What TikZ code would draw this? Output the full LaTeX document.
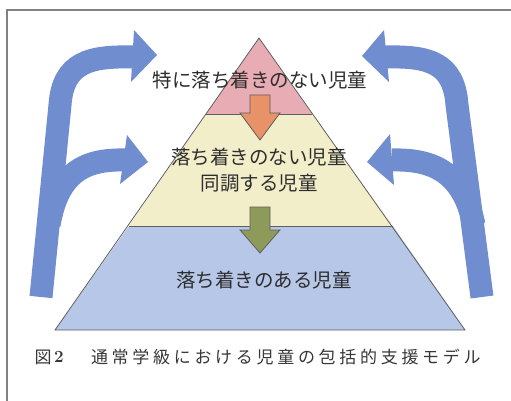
\documentclass[tikz,border=0pt]{standalone}
\usepackage{fontspec}
\newfontfamily\jpfont{Noto Sans CJK JP}
\definecolor{framegray}{RGB}{130,130,130}
\definecolor{edgegray}{RGB}{95,95,95}
\definecolor{pinkfill}{RGB}{232,172,180}
\definecolor{yellowfill}{RGB}{243,238,202}
\definecolor{bluefill}{RGB}{182,199,232}
\definecolor{bluearrow}{RGB}{112,141,208}
\definecolor{orangearrow}{RGB}{232,146,104}
\definecolor{greenarrow}{RGB}{142,154,90}
\definecolor{textgray}{RGB}{45,45,45}
\definecolor{capgray}{RGB}{55,55,55}
\newcommand{\cc}[1]{\makebox[20.7pt]{#1}}
\begin{document}
\begin{tikzpicture}[x=1pt,y=-1pt,
  layer/.style={draw=edgegray,line width=0.8pt},
  downarrow/.style={draw=edgegray,line width=0.8pt},
  bigstroke/.style={draw=bluearrow,line width=23pt,line cap=butt},
  bighead/.style={fill=bluearrow},
  lab/.style={text=textgray,font=\jpfont\fontsize{19.5}{22}\selectfont,inner sep=0pt},
  caption/.style={text=capgray,font=\jpfont\fontsize{17}{20}\selectfont,inner sep=0pt}]
\useasboundingbox (0,0) rectangle (511,401);
\fill[white] (0,0) rectangle (511,401);
% frame
\draw[framegray,line width=1.4pt] (7,401) -- (7,10) -- (511,10);
% pyramid layers
\fill[bluefill] (129,226) -- (393,226) -- (465,330) -- (55,330) -- cycle;
\fill[yellowfill] (206,114) -- (312,114) -- (393,226) -- (129,226) -- cycle;
\fill[pinkfill] (259,38) -- (312,114) -- (206,114) -- cycle;
\draw[layer] (259,38) -- (465,330) -- (55,330) -- cycle;
\draw[layer] (206,114) -- (312,114);
\draw[layer] (129,226) -- (393,226);
% down arrows
\draw[downarrow,fill=orangearrow] (250,95) -- (270,95) -- (270,113) -- (280,113) -- (260,140) -- (240,113) -- (250,113) -- cycle;
\draw[downarrow,fill=greenarrow] (250,207) -- (270,207) -- (270,230) -- (280,230) -- (260,253) -- (240,230) -- (250,230) -- cycle;
% left blue arrows
\draw[bigstroke] (41,297) -- (60,105) .. controls (63,62) and (90,56) .. (133,57);
\draw[bigstroke] (49,225) .. controls (58,172) and (85,159) .. (125,160);
\fill[bighead] (134,30) -- (157,55) -- (131,82) -- cycle;
\fill[bighead] (127,135) -- (148,162) -- (120,184) -- cycle;
% right blue arrows
\draw[bigstroke] (482,297) -- (457,105) .. controls (454,62) and (428,56) .. (385,57);
\draw[bigstroke] (474,225) .. controls (463,172) and (433,159) .. (392,160);
\fill[bighead] (384,30) -- (362,56) -- (389,82) -- cycle;
\fill[bighead] (390,134) -- (367,162) -- (394,185) -- cycle;
% labels
\node[lab] (top) at (260,80) {特に落ち着きのない児童};
\node[lab] (mid1) at (259,157) {落ち着きのない児童};
\node[lab] (mid2) at (259,183) {同調する児童};
\node[lab] (bot) at (264,280) {落ち着きのある児童};
% caption
\node[caption] (fig) at (43,357) {図};
\node[caption,font=\bfseries\fontsize{17}{20}\selectfont] (num) at (59,357) {2};
\node[caption,anchor=west] (captext) at (89,357) {\cc{通}\cc{常}\cc{学}\cc{級}\cc{に}\cc{お}\cc{け}\cc{る}\cc{児}\cc{童}\cc{の}\cc{包}\cc{括}\cc{的}\cc{支}\cc{援}\cc{モ}\cc{デ}\cc{ル}};
\end{tikzpicture}
\end{document}
